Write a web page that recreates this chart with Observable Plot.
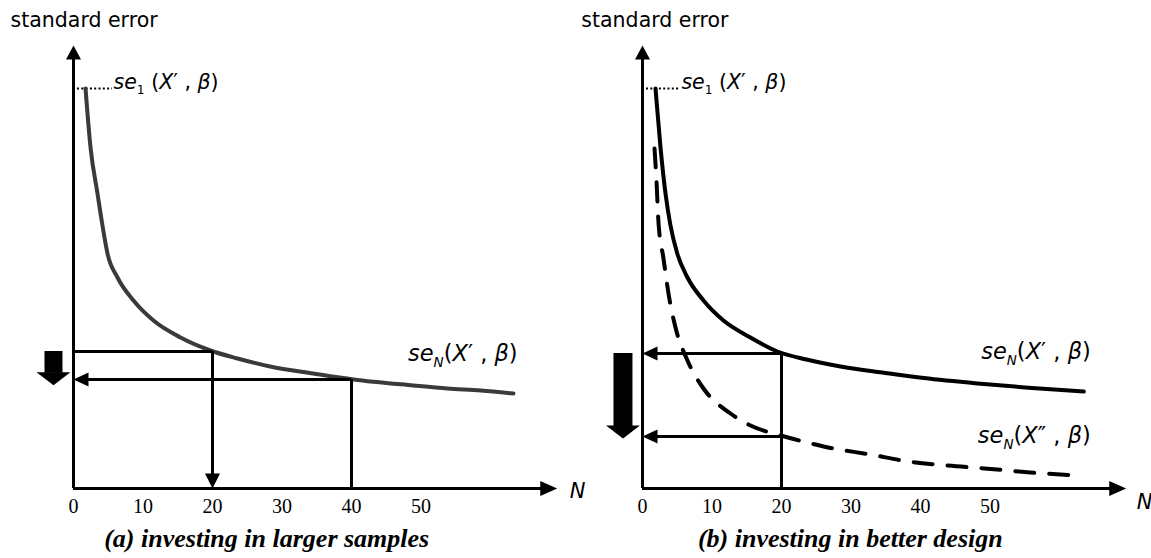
<!DOCTYPE html>
<html><head><meta charset="utf-8">
<script src="https://cdn.jsdelivr.net/npm/d3@7"></script>
<script src="https://cdn.jsdelivr.net/npm/@observablehq/plot@0.6"></script>
<style>
html,body{margin:0;padding:0;background:#fff;}
#wrap{display:flex;width:1151px;height:558px;}
#wrap svg{overflow:visible;flex:none;}
#wrap g[aria-label^="x-axis"] text{font-family:"Liberation Serif","Times New Roman",serif;font-size:20px;}
</style></head><body><div id="wrap"></div>
<script>
// ---------- data ----------
const tickValues = [0, 10, 20, 30, 40, 50];
const tickLabels = ["0", "10", "20", "30", "40", "50"];

// se_N(X', beta) — panel (a)
const curveAN  = [1.73, 2.45, 3.45, 4.17, 4.89, 6.33, 8.63, 11.51, 15.40, 19.71, 23.6, 28.3, 34.5, 40.3, 48.9, 53.8, 58.6, 63.3];
const curveASE = [1.0, 0.8525, 0.7375, 0.6575, 0.5875, 0.5275, 0.47, 0.42, 0.3775, 0.345, 0.325, 0.305, 0.2875, 0.2725, 0.2575, 0.25, 0.245, 0.2375];
// se_N(X', beta) — panel (b)
const curveBN  = [1.87, 2.59, 3.31, 4.0, 5.0, 6.47, 8.78, 11.65, 15.54, 19.4, 23.6, 28.5, 34.5, 40.5, 48.2, 55.5, 63.5];
const curveBSE = [1.0, 0.8525, 0.7375, 0.66, 0.5875, 0.5275, 0.47, 0.42, 0.3775, 0.3425, 0.3225, 0.305, 0.29, 0.276, 0.2625, 0.252, 0.2425];
// se_N(X'', beta) — panel (b), dashed
const dashN  = [1.73, 2.01, 2.30, 3.02, 3.74, 4.75, 6.47, 8.78, 12.66, 15.54, 19.86, 23.74, 27.48, 32.8, 38.1, 43.9, 50.1, 55.8, 62.6];
const dashSE = [0.85, 0.77, 0.665, 0.575, 0.4875, 0.4025, 0.32, 0.25, 0.1875, 0.1575, 0.1325, 0.115, 0.10, 0.085, 0.068, 0.0575, 0.049, 0.04, 0.0325];

const se1 = 1.0;
const yAxisTop = 1.1075;
const xAxisEnd = 69.6;

// guide readings
const guideA_N  = [20, 40];
const guideA_SE = [0.3425, 0.2725];
const guideB_N  = [20, 20];
const guideB_SE = [0.3375, 0.13];
// thick arrows: [top, tip]
const bigA = [0.3425, 0.258];
const bigB = [0.3375, 0.125];
const bigN = [-2.88, -2.81];

const labelsA = ["se_1 (X′ , β)", "se_N(X′ , β)"];
const labelsB = ["se_1 (X′ , β)", "se_N(X′ , β)", "se_N(X″ , β)"];
const captions = ["(a) investing in larger samples", "(b) investing in better design"];
const yTitle = "standard error";
const xTitle = "N";

const SANS = "DejaVu Sans, Verdana, sans-serif";
const SERIF = "Liberation Serif, Times New Roman, serif";

// ---------- helpers ----------
function headSym(dir, len, wid) {
  const h = wid / 2;
  return {draw(ctx) {
    ctx.moveTo(0, 0);
    if (dir === "up") { ctx.lineTo(-h, len); ctx.lineTo(h, len); }
    else if (dir === "down") { ctx.lineTo(-h, -len); ctx.lineTo(h, -len); }
    else if (dir === "left") { ctx.lineTo(len, -h); ctx.lineTo(len, h); }
    else { ctx.lineTo(-len, -h); ctx.lineTo(-len, h); }
    ctx.closePath();
  }};
}
const UP = headSym("up", 14, 15), RIGHT = headSym("right", 17, 15);
const DOWN = headSym("down", 15, 15), LEFT = headSym("left", 15, 14);
const BIGDOWN = headSym("down", 13, 34);

function mathify(svg) {
  const ns = "http://www.w3.org/2000/svg";
  svg.querySelectorAll("text").forEach(el => {
    const s = el.textContent;
    if (!s.startsWith("se_")) return;
    const g = el.closest("g[font-size]");
    const fs = g ? parseFloat(g.getAttribute("font-size")) : 21;
    const runs = [];
    for (let i = 0; i < s.length; i++) {
      let ch = s[i], sub = false;
      if (ch === "_") { sub = true; ch = s[++i]; }
      const it = /[A-Za-zβ]/.test(ch);
      const last = runs[runs.length - 1];
      if (!sub && last && !last.sub && last.it === it) last.t += ch;
      else runs.push({t: ch, sub, it});
    }
    el.textContent = "";
    let shifted = false;
    for (const r of runs) {
      const ts = document.createElementNS(ns, "tspan");
      ts.textContent = r.t;
      ts.setAttribute("font-style", r.it ? "italic" : "normal");
      if (r.sub) { ts.setAttribute("font-size", fs * 0.6); ts.setAttribute("dy", fs * 0.28); shifted = true; }
      else if (shifted) { ts.setAttribute("dy", -fs * 0.28); shifted = false; }
      el.appendChild(ts);
    }
  });
}

function panel(cfg) {
  const axis = [{N: 0, se: 0, top: yAxisTop, end: xAxisEnd}];
  const marks = [
    // axes
    Plot.ruleX(axis, {x: "N", y1: "top", y2: "se", stroke: "black", strokeWidth: 3, insetTop: 8}),
    Plot.ruleY(axis, {y: "se", x1: "N", x2: "end", stroke: "black", strokeWidth: 3, insetRight: 10}),
    Plot.dot(axis, {x: "N", y: "top", symbol: UP, r: 5, fill: "black", stroke: "none"}),
    Plot.dot(axis, {x: "end", y: "se", symbol: RIGHT, r: 5, fill: "black", stroke: "none"}),
    // se1 dotted leader
    Plot.ruleY([{se: se1, x2: cfg.startLabels[0].N}], {y: "se", x1: () => 0, x2: "x2", stroke: "black", strokeWidth: 2, strokeDasharray: "2,2.3", insetLeft: 4, insetRight: 1}),
    ...cfg.lines,
    ...cfg.guides,
    // thick arrow
    Plot.ruleX([cfg.big], {x: "N", y1: "top", y2: "tip", stroke: "black", strokeWidth: cfg.big.w, insetBottom: 12}),
    Plot.dot([cfg.big], {x: "N", y: "tip", symbol: BIGDOWN, r: 5, fill: "black", stroke: "none"}),
    // labels
    Plot.text(cfg.startLabels, {x: "N", y: "se", text: "t", textAnchor: "start", fontSize: 20.5, fontFamily: SANS, lineAnchor: "bottom", fill: "black"}),
    Plot.text(cfg.endLabels, {x: "N", y: "se", text: "t", textAnchor: "end", fontSize: 22.5, fontFamily: SANS, lineAnchor: "bottom", fill: "black"}),
    Plot.text([{N: cfg.ytN, se: 1.155, t: yTitle}], {x: "N", y: "se", text: "t", textAnchor: "start", lineAnchor: "bottom", fontSize: 20.5, fontFamily: SANS, fill: "black"}),
    Plot.text([{N: cfg.xtN, se: cfg.xtSE, t: xTitle}], {x: "N", y: "se", text: "t", textAnchor: "start", lineAnchor: "bottom", fontSize: 21, fontFamily: SANS, fontStyle: "italic", fill: "black"}),
    Plot.text([{N: cfg.capN, se: -0.145, t: cfg.caption}], {x: "N", y: "se", text: "t", textAnchor: "middle", lineAnchor: "bottom", fontSize: 26, fontWeight: "bold", fontStyle: "italic", fontFamily: SERIF, fill: "black"})
  ];
  const svg = Plot.plot({
    width: cfg.width, height: 558,
    marginLeft: cfg.ml, marginRight: cfg.width - cfg.ml - 70 * 6.95,
    marginTop: 8, marginBottom: 70,
    style: {background: "none", overflow: "visible", fontFamily: SANS, fontSize: "20px", color: "black"},
    x: {domain: [0, 70], ticks: tickValues, tickFormat: d => tickLabels[tickValues.indexOf(d)], tickSize: 0, tickPadding: 10, label: null},
    y: {domain: [0, 1.2], axis: null},
    marks
  });
  mathify(svg);
  return svg;
}

const toPts = (N, S) => N.map((n, i) => ({N: n, se: S[i]}));

// panel (a)
const gA = guideA_N.map((n, i) => ({N: n, se: guideA_SE[i]}));
const svgA = panel({
  width: 575, ml: 73,
  lines: [
    Plot.line(toPts(curveAN, curveASE), {x: "N", y: "se", stroke: "#3a3a3a", strokeWidth: 4, curve: "monotone-x"})
  ],
  guides: [
    Plot.ruleY([gA[0]], {y: "se", x1: () => 0, x2: "N", stroke: "black", strokeWidth: 3}),
    Plot.ruleX([gA[1]], {x: "N", y1: "se", y2: () => 0, stroke: "black", strokeWidth: 3}),
    Plot.ruleX([gA[0]], {x: "N", y1: "se", y2: () => 0, stroke: "black", strokeWidth: 3, insetBottom: 12}),
    Plot.dot([gA[0]], {x: "N", y: () => 0, symbol: DOWN, r: 5, fill: "black", stroke: "none"}),
    Plot.ruleY([gA[1]], {y: "se", x1: () => 0, x2: "N", stroke: "black", strokeWidth: 3, insetLeft: 12}),
    Plot.dot([gA[1]], {x: () => 0, y: "se", symbol: LEFT, r: 5, fill: "black", stroke: "none"})
  ],
  big: {N: bigN[0], top: bigA[0], tip: bigA[1], w: 18},
  startLabels: [{N: 5.76, se: se1, t: labelsA[0]}],
  endLabels: [{N: 63.9, se: 0.32, t: labelsA[1]}],
  ytN: -9.06, xtN: 71.4, xtSE: -0.0225, capN: 27.8, caption: captions[0]
});

// panel (b)
const gB = guideB_N.map((n, i) => ({N: n, se: guideB_SE[i]}));
const svgB = panel({
  width: 576, ml: 67,
  lines: [
    Plot.line(toPts(curveBN, curveBSE), {x: "N", y: "se", stroke: "black", strokeWidth: 4, curve: "monotone-x"}),
    Plot.line(toPts(dashN, dashSE), {x: "N", y: "se", stroke: "black", strokeWidth: 4, strokeDasharray: "19,15", curve: "monotone-x"})
  ],
  guides: [
    Plot.ruleX([gB[0]], {x: "N", y1: "se", y2: () => 0, stroke: "black", strokeWidth: 3}),
    Plot.ruleY(gB, {y: "se", x1: () => 0, x2: "N", stroke: "black", strokeWidth: 3, insetLeft: 12}),
    Plot.dot(gB, {x: () => 0, y: "se", symbol: LEFT, r: 5, fill: "black", stroke: "none"})
  ],
  big: {N: bigN[1], top: bigB[0], tip: bigB[1], w: 19},
  startLabels: [{N: 5.6, se: se1, t: labelsB[0]}],
  endLabels: [{N: 64.5, se: 0.325, t: labelsB[1]}, {N: 64.5, se: 0.115, t: labelsB[2]}],
  ytN: -8.8, xtN: 71.1, xtSE: -0.05, capN: 29.9, caption: captions[1]
});

document.getElementById("wrap").append(svgA, svgB);
</script></body></html>
